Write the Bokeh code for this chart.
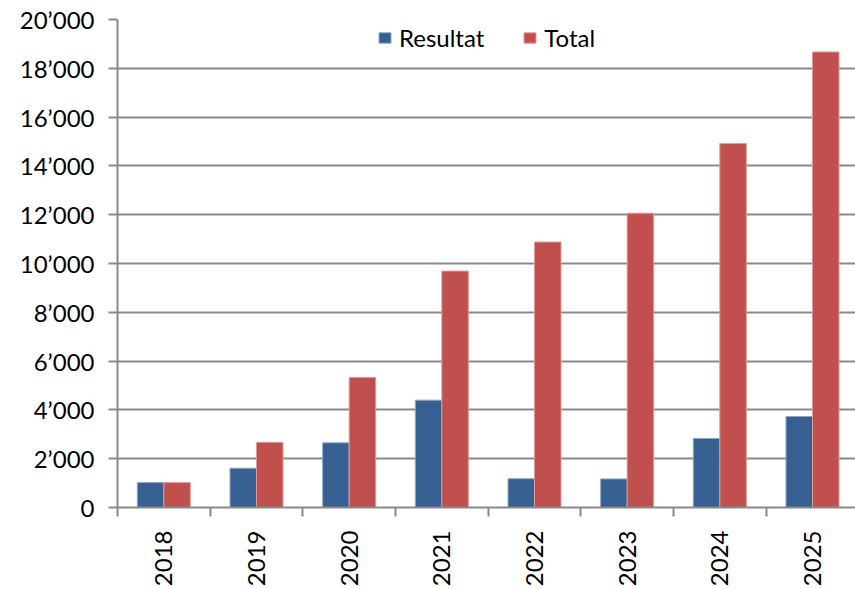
import math
from bokeh.plotting import figure
from bokeh.models import Range1d, FixedTicker, Legend, LegendItem, ColumnDataSource
from bokeh.embed import file_html
from bokeh.resources import INLINE

years = ["2018", "2019", "2020", "2021", "2022", "2023", "2024", "2025"]
resultat = [1020, 1610, 2650, 4400, 1180, 1170, 2830, 3730]
total = [1020, 2670, 5330, 9690, 10880, 12060, 14920, 18670]
y_ticks = [0, 2000, 4000, 6000, 8000, 10000, 12000, 14000, 16000, 18000, 20000]
y_tick_labels = ["0", "2\u2019000", "4\u2019000", "6\u2019000", "8\u2019000", "10\u2019000",
                 "12\u2019000", "14\u2019000", "16\u2019000", "18\u2019000", "20\u2019000"]

FONT = "Lato"
FS = "24px"
GRAY = "#898989"
BLUE = "#365F92"
RED = "#C0504D"
BAR_W = 0.286

centers = [i + 0.5 for i in range(len(years))]
src = ColumnDataSource(dict(
    xr=[c - BAR_W / 2 for c in centers],
    xt=[c + BAR_W / 2 for c in centers],
    resultat=resultat,
    total=total,
))

p = figure(width=855, height=589, output_backend="svg", toolbar_location=None,
           x_range=Range1d(0, 7.964), y_range=Range1d(0, 20000),
           min_border_left=117, min_border_right=0, min_border_top=19, min_border_bottom=81)
p.outline_line_color = None
p.background_fill_color = "white"
p.border_fill_color = "white"

r1 = p.vbar(x="xr", top="resultat", width=BAR_W, source=src, fill_color=BLUE,
            line_color="#8EA6C4", line_width=1)
r2 = p.vbar(x="xt", top="total", width=BAR_W, source=src, fill_color=RED,
            line_color="#E09A98", line_width=1)

# y axis
yt = FixedTicker(ticks=y_ticks)
p.yaxis.ticker = yt
p.ygrid.ticker = yt
p.yaxis.major_label_overrides = {t: l for t, l in zip(y_ticks, y_tick_labels)}
p.yaxis.axis_line_color = GRAY
p.yaxis.axis_line_width = 2
p.yaxis.major_tick_line_color = GRAY
p.yaxis.major_tick_line_width = 2
p.yaxis.major_tick_out = 9
p.yaxis.major_tick_in = 0
p.yaxis.minor_tick_line_color = None
p.yaxis.major_label_standoff = 14
p.yaxis.major_label_text_font = FONT
p.yaxis.major_label_text_font_size = FS
p.yaxis.major_label_text_color = "#000000"

# x axis: labels at centers, ticks at boundaries
xt = FixedTicker(ticks=centers, minor_ticks=list(range(len(years) + 1)))
p.xaxis.ticker = xt
p.xaxis.major_label_overrides = {c: y for c, y in zip(centers, years)}
p.xaxis.major_label_orientation = math.pi / 2
p.xaxis.axis_line_color = GRAY
p.xaxis.axis_line_width = 2
p.xaxis.major_tick_line_color = None
p.xaxis.major_tick_out = 0
p.xaxis.major_tick_in = 0
p.xaxis.minor_tick_line_color = GRAY
p.xaxis.minor_tick_line_width = 2
p.xaxis.minor_tick_out = 9
p.xaxis.minor_tick_in = 0
p.xaxis.major_label_standoff = 14
p.xaxis.major_label_text_font = FONT
p.xaxis.major_label_text_font_size = FS
p.xaxis.major_label_text_color = "#000000"

p.xgrid.grid_line_color = None
p.ygrid.grid_line_color = GRAY
p.ygrid.grid_line_width = 2

legend = Legend(items=[LegendItem(label="Resultat", renderers=[r1]),
                       LegendItem(label="Total", renderers=[r2])],
                orientation="horizontal", location=(260, 455),
                border_line_color=None, background_fill_alpha=0,
                margin=0, padding=6, spacing=38, label_standoff=7,
                glyph_width=15, glyph_height=13,
                label_text_font=FONT, label_text_font_size=FS,
                label_text_color="#000000")
p.add_layout(legend, "center")

open("out.html", "w").write(file_html(p, INLINE))
